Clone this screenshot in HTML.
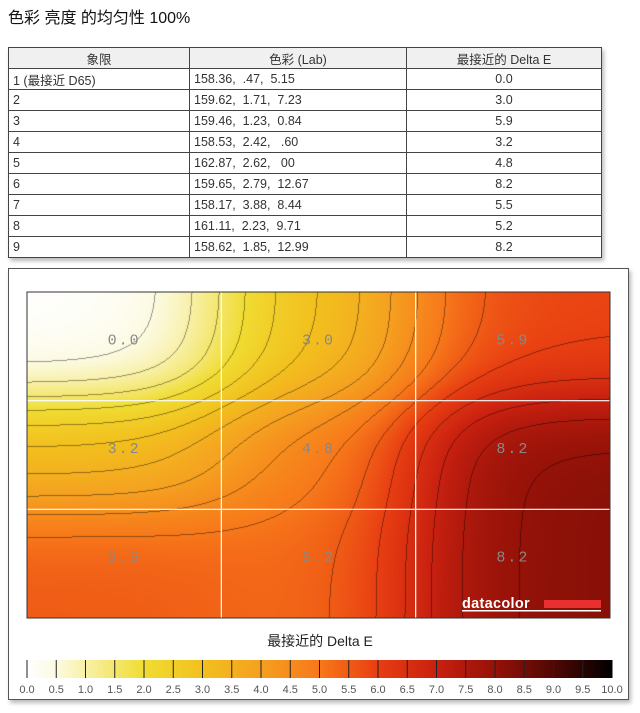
<!DOCTYPE html>
<html><head><meta charset="utf-8">
<style>
body{margin:0;width:640px;height:713px;background:#fff;font-family:"Liberation Sans","Noto Sans CJK SC",sans-serif;position:relative;overflow:hidden}
#title{position:absolute;left:8px;top:4px;font-size:16px;color:#111}
table{position:absolute;left:8px;top:47px;width:594px;border-collapse:collapse;font-size:12.5px;color:#333;box-shadow:2px 3px 4px #bbb}
td,th{border:1px solid #444;height:20px;padding:0 4px;font-weight:normal}
th{background:#f0f0f0;text-align:center}
td.c{text-align:center}
#panel{position:absolute;left:8px;top:268px;width:619px;height:430px;border:1px solid #555;box-shadow:2px 3px 4px #bbb;background:#fff}
</style></head><body>
<div id="title">色彩 亮度 的均匀性 100%</div>
<table>
<thead><tr><th style="width:172px">象限</th><th style="width:208px">色彩 (Lab)</th><th>最接近的 Delta E</th></tr></thead>
<tbody id="tb"></tbody></table>
<div id="panel"></div>
<canvas id="cv" width="583" height="326" style="position:absolute;left:27px;top:292px"></canvas>
<svg id="ov" width="640" height="713" style="position:absolute;left:0;top:0"></svg>
<script>
const quadrants=["1 (最接近 D65)","2","3","4","5","6","7","8","9"];
const labValues=["158.36,  .47,  5.15","159.62,  1.71,  7.23","159.46,  1.23,  0.84","158.53,  2.42,   .60","162.87,  2.62,   00","159.65,  2.79,  12.67","158.17,  3.88,  8.44","161.11,  2.23,  9.71","158.62,  1.85,  12.99"];
const deltaE=[0.0,3.0,5.9,3.2,4.8,8.2,5.5,5.2,8.2];
const ticks=[0,0.5,1,1.5,2,2.5,3,3.5,4,4.5,5,5.5,6,6.5,7,7.5,8,8.5,9,9.5,10];

const tb=document.getElementById('tb');
quadrants.forEach((q,i)=>{
  const tr=document.createElement('tr');
  
  
  tr.innerHTML='<td>'+q+'</td><td style="white-space:pre">'+labValues[i]+'</td><td class="c">'+deltaE[i].toFixed(1)+'</td>';
  tb.appendChild(tr);
});

const stops=[[0,[255,255,255]],[0.5,[252,250,225]],[2,[240,220,50]],[3,[242,192,30]],[4,[245,160,32]],[5,[247,120,26]],[6,[232,62,18]],[7,[200,32,16]],[8,[150,18,8]],[9,[80,8,4]],[10,[0,0,0]]];
function cmap(v){v=Math.max(0,Math.min(10,v));
  for(let i=1;i<stops.length;i++){if(v<=stops[i][0]){const a=stops[i-1],b=stops[i],t=(v-a[0])/(b[0]-a[0]);return a[1].map((c,k)=>c+(b[1][k]-c)*t);}}
  return [0,0,0];}
const W=583,H=326;
function field(u,w){
  let s=0,ws=0;
  for(let i=0;i<9;i++){
    const cx=((i%3)+0.5)/3, cy=(Math.floor(i/3)+0.5)/3;
    const d2=(u-cx)*(u-cx)+(w-cy)*(w-cy);
    const wt=Math.exp(-d2/(2*0.15*0.15));
    s+=wt*deltaE[i];ws+=wt;}
  return s/ws;}
const ctx=document.getElementById('cv').getContext('2d');
const img=ctx.createImageData(W,H);
const F=[];
for(let y=0;y<H;y++)for(let x=0;x<W;x++)F.push(field((x+0.5)/W,(y+0.5)/H));
for(let y=0;y<H;y++)for(let x=0;x<W;x++){
  const v=F[y*W+x];let c=cmap(v);
  const lv=Math.floor(v/0.5);
  const r=x+1<W?F[y*W+x+1]:v, d=y+1<H?F[(y+1)*W+x]:v;
  if(Math.floor(r/0.5)!=lv||Math.floor(d/0.5)!=lv)c=c.map(k=>k*0.6);
  const o=(y*W+x)*4;img.data[o]=c[0];img.data[o+1]=c[1];img.data[o+2]=c[2];img.data[o+3]=255;}
ctx.putImageData(img,0,0);

const ns='http://www.w3.org/2000/svg';
const ov=document.getElementById('ov');
function mk(t,a,p){const e=document.createElementNS(ns,t);for(const k in a)e.setAttribute(k,a[k]);(p||ov).appendChild(e);return e;}
const X0=27,Y0=292;
[1,2].forEach(i=>{
  const l1=mk('line',{x1:X0+W*i/3,x2:X0+W*i/3,y1:Y0,y2:Y0+H,stroke:'#fff','stroke-width':1.2});
  
  
  const l2=mk('line',{x1:X0,x2:X0+W,y1:Y0+H*i/3,y2:Y0+H*i/3,stroke:'#fff','stroke-width':1.2});
  
  
});
const fr=mk('rect',{x:X0,y:Y0,width:W,height:H,fill:'none',stroke:'#333'});


deltaE.forEach((v,i)=>{
  const t=mk('text',{x:X0+W*((i%3)+0.5)/3,y:Y0+H*(Math.floor(i/3)+0.5)/3-2,'text-anchor':'middle','font-family':'Liberation Mono, monospace','font-size':15,fill:'#888','letter-spacing':2});
  t.textContent=v.toFixed(1);
  
  
});
const logo=mk('text',{x:462,y:608,'font-family':'Liberation Sans, sans-serif','font-weight':'bold','font-size':14.5,fill:'#fff','letter-spacing':0.3});
logo.textContent='datacolor';


mk('rect',{x:544,y:600,width:57,height:8,fill:'#e83030'});
mk('rect',{x:462,y:610,width:139,height:1.5,fill:'#fff'});
const CX0=27,CX1=612,CY=660,CH=18;
const cbx=v=>CX0+(CX1-CX0)*v/10;
const ct=mk('text',{x:320,y:646,'text-anchor':'middle','font-size':14,fill:'#222','font-family':'Liberation Sans, Noto Sans CJK SC, sans-serif'});
ct.textContent='最接近的 Delta E';


for(let i=0;i<200;i++){const v=i*0.05;const c=cmap(v+0.025);
  mk('rect',{x:cbx(v),y:CY,width:(CX1-CX0)/200+0.5,height:CH,fill:'rgb('+c.map(Math.round).join(',')+')'});}
ticks.forEach(v=>{
  if(v<10){const l=mk('line',{x1:cbx(v),x2:cbx(v),y1:CY,y2:CY+CH,stroke:'#222','stroke-width':1});
  
  }
  const t=mk('text',{x:cbx(v),y:CY+CH+15,'text-anchor':'middle','font-size':11,fill:'#555'});
  t.textContent=v.toFixed(1);
  
  
});
</script>
</body></html>
